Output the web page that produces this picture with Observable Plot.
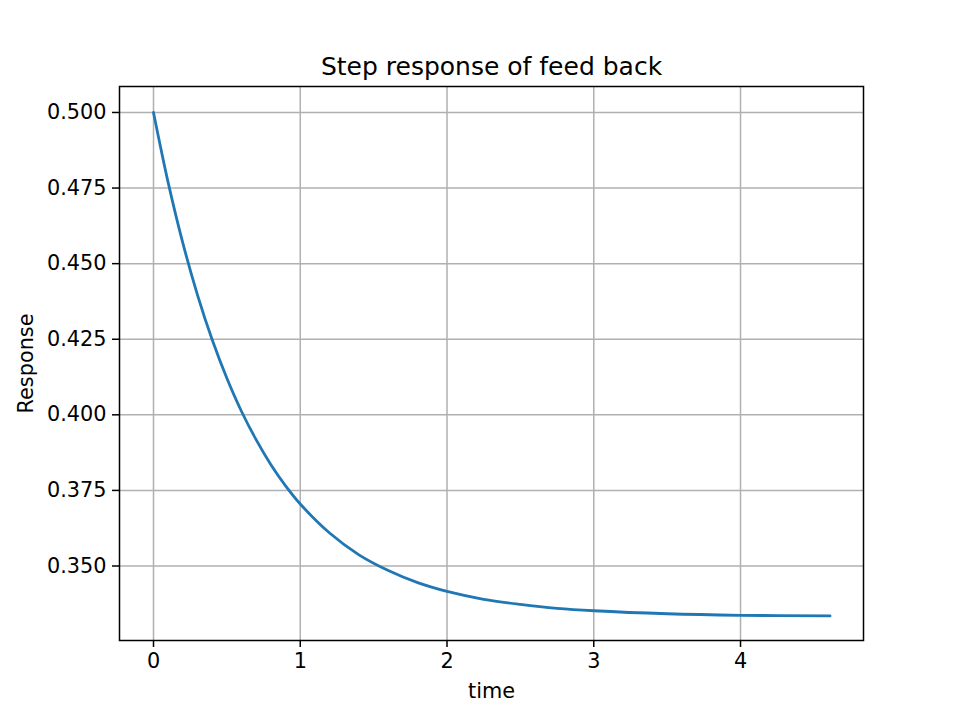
<!DOCTYPE html>
<html>
<head>
<meta charset="utf-8">
<script src="https://cdn.jsdelivr.net/npm/d3@7"></script>
<script src="https://cdn.jsdelivr.net/npm/@observablehq/plot@0.6"></script>
<style>
  html, body { margin: 0; padding: 0; background: #fff; }
</style>
</head>
<body>
<div id="chart"></div>
<script>
const title = "Step response of feed back";
const xLabel = "time";
const yLabel = "Response";
const times = [0, 0.1, 0.2, 0.3, 0.4, 0.5, 0.6, 0.7, 0.8, 0.9, 1.0, 1.2, 1.4, 1.6, 1.8, 2.0, 2.25, 2.5, 2.75, 3.0, 3.5, 4.0, 4.61];
const responses = [0.500, 0.4768, 0.4568, 0.4396, 0.4248, 0.4121, 0.4011, 0.3917, 0.3835, 0.3765, 0.3705, 0.3609, 0.3537, 0.3485, 0.3445, 0.3416, 0.3390, 0.3373, 0.3360, 0.3352, 0.3342, 0.3337, 0.3335];
const xTicks = [0, 1, 2, 3, 4];
const yTicks = [0.350, 0.375, 0.400, 0.425, 0.450, 0.475, 0.500];

const data = times.map((t, i) => ({t, y: responses[i]}));
const font = "DejaVu Sans, sans-serif";

const chart = Plot.plot({
  width: 959,
  height: 720,
  marginLeft: 119,
  marginRight: 96,
  marginTop: 86,
  marginBottom: 80,
  style: {fontFamily: font, fontSize: "20.8px", color: "#000", background: "#fff"},
  x: {domain: [-0.2317, 4.838]},
  y: {domain: [0.32536, 0.50859]},
  marks: [
    Plot.gridX(xTicks, {stroke: "#b0b0b0", strokeOpacity: 1, strokeWidth: 1.5}),
    Plot.gridY(yTicks, {stroke: "#b0b0b0", strokeOpacity: 1, strokeWidth: 1.5}),
    Plot.line(data, {x: "t", y: "y", stroke: "#1f77b4", strokeWidth: 2.8, curve: "catmull-rom"}),
    Plot.frame({stroke: "#000", strokeWidth: 1.5}),
    Plot.axisX(xTicks, {tickSize: 7, tickPadding: 6, strokeWidth: 1.5, fontSize: 20.8, label: null, tickFormat: d3.format("d")}),
    Plot.axisY(yTicks, {tickSize: 7, tickPadding: 6, strokeWidth: 1.5, fontSize: 20.8, label: null, tickFormat: d3.format(".3f")}),
    Plot.text([title], {frameAnchor: "top", lineAnchor: "bottom", dy: -12, fontSize: 25, fill: "#000"}),
    Plot.text([xLabel], {frameAnchor: "bottom", dy: 57, fontSize: 20.8, fill: "#000"}),
    Plot.text([yLabel], {frameAnchor: "left", textAnchor: "middle", dx: -93, rotate: -90, fontSize: 20.8, fill: "#000"})
  ]
});
document.getElementById("chart").appendChild(chart);
</script>
</body>
</html>
